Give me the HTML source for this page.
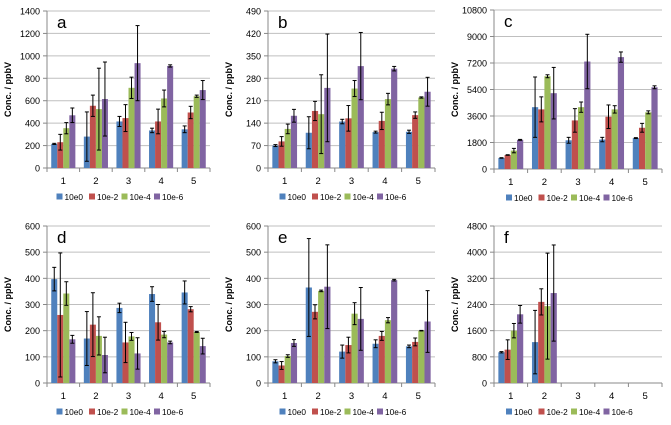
<!DOCTYPE html>
<html><head><meta charset="utf-8"><style>
body{margin:0;background:#fff;}
svg{display:block;font-family:"Liberation Sans",sans-serif;}
</style></head><body>
<svg id="c" width="671" height="425" viewBox="0 0 671 425" xmlns="http://www.w3.org/2000/svg"></svg>
<script>
const categories=["1","2","3","4","5"];
const seriesNames=["10e0","10e-2","10e-4","10e-6"];
const colors=["#4f81bd","#c0504d","#9bbb59","#8064a2"];
const panelLetters=["a","b","c","d","e","f"];
const panelMax=[1400,490,10800,600,600,4800];
const panelStep=[200,70,1800,100,100,800];
// values per panel: [category][series]
const valsA=[[215,230,355,470],[280,555,525,615],[415,445,715,935],[335,415,620,910],[345,495,640,695]];
const errsA=[[5,70,50,65],[220,95,365,330],[45,120,95,335],[20,110,75,10],[30,55,10,85]];
const valsB=[[70,83,122,163],[110,178,168,250],[145,155,248,318],[112,147,215,310],[113,165,220,238]];
const errsB=[[3,15,15,20],[50,30,123,168],[7,40,25,105],[3,27,18,7],[5,10,2,45]];
const valsC=[[750,950,1250,1980],[4200,4050,6300,5150],[1950,3300,4200,7300],[2000,3550,4050,7600],[2100,2800,3850,5550]];
const errsC=[[20,20,150,30],[2050,850,100,1750],[200,800,350,1850],[150,800,250,350],[30,300,100,100]];
const valsD=[[397,260,342,167],[170,223,180,107],[287,155,178,113],[340,232,185,155],[346,282,195,141]];
const errsD=[[45,237,45,15],[103,122,73,68],[18,77,15,60],[28,68,12,5],[44,10,2,30]];
const valsE=[[83,67,103,153],[365,272,352,368],[120,145,265,245],[150,180,240,393],[140,157,200,235]];
const errsE=[[6,15,5,13],[187,27,3,160],[25,30,42,120],[15,17,10,3],[5,15,1,118]];
const valsF=[[940,1020,1600,2100],[1250,2480,2350,2750],[null,null,null,null],[null,null,null,null],[null,null,null,null]];
const errsF=[[20,300,220,270],[970,400,1620,1470],[0,0,0,0],[0,0,0,0],[0,0,0,0]];
const allVals=[valsA,valsB,valsC,valsD,valsE,valsF];
const allErrs=[errsA,errsB,errsC,errsD,errsE,errsF];

const svg=document.getElementById('c');
const NS="http://www.w3.org/2000/svg";
function mk(tag,attrs,parent,text){const e=document.createElementNS(NS,tag);for(const k in attrs)e.setAttribute(k,attrs[k]);if(text!==undefined)e.textContent=text;(parent||svg).appendChild(e);return e;}
const geo=[[47,210,11,168],[268,435,11,168],[494,662,10,169],[47,210,226,383],[268,435,226,383],[494,662,226,383]];
geo.forEach((g,p)=>{
  const [x0,x1,y0,y1]=g;
  const grp=mk('g',{});
  
  
  const max=panelMax[p],step=panelStep[p];
  const yS=v=>y1-(v/max)*(y1-y0);
  const gw=(x1-x0)/categories.length;
  const xS=i=>x0+gw*i;
  for(let v=0;v<=max+1e-6;v+=step){
    const y=yS(v);
    if(v>0){const l=mk('line',{x1:x0,x2:x1,y1:y,y2:y,stroke:'#bfbfbf','stroke-width':1},grp);}
    mk('line',{x1:x0-4,x2:x0,y1:y,y2:y,stroke:'#888'},grp);
    const t=mk('text',{x:x0-7,y:y+3.5,'text-anchor':'end','font-size':9,fill:'#000'},grp,String(v));
    
  }
  mk('line',{x1:x0,x2:x0,y1:y0,y2:y1,stroke:'#888'},grp);
  mk('line',{x1:x0,x2:x1,y1:y1,y2:y1,stroke:'#888'},grp);
  categories.forEach((c,i)=>{
    mk('line',{x1:xS(i),x2:xS(i),y1:y1,y2:y1+4,stroke:'#888'},grp);
    const t=mk('text',{x:xS(i)+gw/2,y:y1+16,'text-anchor':'middle','font-size':9.5},grp,c);
    
    const bw=gw*0.185, start=xS(i)+gw/2-2*bw;
    seriesNames.forEach((s,k)=>{
      const v=allVals[p][i][k]; if(v==null)return;
      const bx=start+k*bw;
      const r=mk('rect',{x:bx,y:yS(v),width:bw,height:y1-yS(v),fill:colors[k]},grp);
      
      const e=allErrs[p][i][k], cx=bx+bw/2;
      const eg=mk('g',{stroke:'#000','stroke-width':1},grp);
      
      mk('line',{x1:cx,x2:cx,y1:yS(v+e),y2:yS(Math.max(0,v-e))},eg);
      mk('line',{x1:cx-2,x2:cx+2,y1:yS(v+e),y2:yS(v+e)},eg);
      mk('line',{x1:cx-2,x2:cx+2,y1:yS(Math.max(0,v-e)),y2:yS(Math.max(0,v-e))},eg);
    });
  });
  mk('line',{x1:x1,x2:x1,y1:y1,y2:y1+4,stroke:'#888'},grp);
  const lt=mk('text',{x:x0+10,y:y0+17,'font-size':17},grp,panelLetters[p]);
  
  const yl=mk('text',{x:0,y:0,'font-size':9,'font-weight':'bold','text-anchor':'middle',transform:`translate(${x0-36},${(y0+y1)/2}) rotate(-90)`},grp,'Conc. / ppbV');
  
  const ly=y1+32;
  const lx=x0+(x1-x0)/2-72;
  seriesNames.forEach((s,k)=>{
    const lg=mk('g',{},grp);
    
    const bx=lx+k*32.5;
    mk('rect',{x:bx,y:ly-6.5,width:6,height:6,fill:colors[k]},lg);
    mk('text',{x:bx+8,y:ly,'font-size':8.3},lg,s);
  });
});
</script>
</body></html>
